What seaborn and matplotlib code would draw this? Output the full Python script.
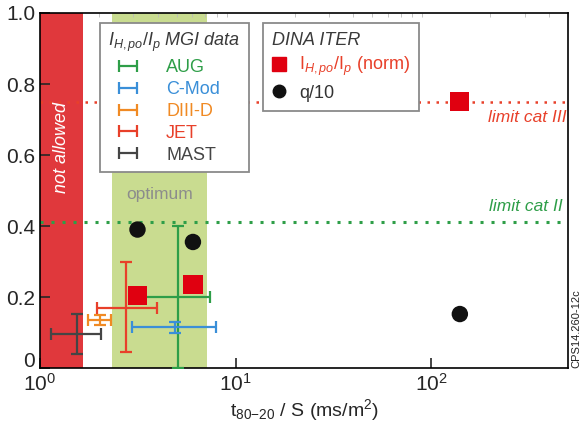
import numpy as np
import pandas as pd
import matplotlib
matplotlib.use("Agg")
import matplotlib.pyplot as plt
import matplotlib.transforms as mtransforms
from matplotlib.lines import Line2D
import seaborn as sns

# ---------------- data ----------------
machines = ["AUG", "C-Mod", "DIII-D", "JET", "MAST"]
machine_colors = ["#2e9e48", "#3a8fd8", "#f08a24", "#e8402a", "#454545"]
x_center = [5.1, 4.9, 2.02, 2.75, 1.55]
x_low = [3.4, 2.95, 1.76, 1.95, 1.14]
x_high = [7.4, 7.9, 2.3, 3.95, 2.06]
y_center = [0.20, 0.115, 0.135, 0.17, 0.097]
y_low = [0.0, 0.10, 0.12, 0.045, 0.04]
y_high = [0.40, 0.13, 0.15, 0.30, 0.152]

dina_x = [3.15, 6.05, 140.0]
dina_I = [0.205, 0.235, 0.75]
dina_q = [0.39, 0.355, 0.152]

limit_cat3 = 0.75
limit_cat2 = 0.41
not_allowed_range = [1.0, 1.66]
optimum_range = [2.33, 7.1]

# ---------------- style ----------------
sns.set_style("ticks")
plt.rcParams["font.family"] = ["Liberation Sans", "DejaVu Sans"]
plt.rcParams["mathtext.fontset"] = "custom"
plt.rcParams["mathtext.rm"] = "Liberation Sans"
plt.rcParams["mathtext.it"] = "Liberation Sans:italic"
plt.rcParams["mathtext.bf"] = "Liberation Sans:bold"

fig = plt.figure(figsize=(5.8, 4.23), dpi=100)
ax = fig.add_axes([40 / 580, 1 - 368 / 423, 528 / 580, 355 / 423])
ax.set_xscale("log")
ax.set_xlim(1, 500)
ax.set_ylim(0, 1.0)

# bands
ax.axvspan(*not_allowed_range, color="#e0383c", lw=0, zorder=0)
ax.axvspan(*optimum_range, color="#c9dc90", lw=0, zorder=0)

# limit lines
ax.axhline(limit_cat3, color="#e8402a", ls=(0, (1, 2.6)), lw=1.8, zorder=1)
ax.axhline(limit_cat2, color="#2e9e48", ls=(0, (1, 2.6)), lw=2.2, zorder=1)

# error bars
for m, c, xc, xl, xh, yc, yl, yh in zip(machines, machine_colors, x_center, x_low,
                                         x_high, y_center, y_low, y_high):
    ax.errorbar([xc], [yc], xerr=[[xc - xl], [xh - xc]], yerr=[[yc - yl], [yh - yc]],
                fmt="none", ecolor=c, elinewidth=1.6, capsize=4.5, capthick=1.6, zorder=3)

# DINA points
df = pd.DataFrame({"x": dina_x, "I": dina_I, "q": dina_q})
sns.scatterplot(data=df, x="x", y="I", marker="s", s=190, color="#e00010",
                edgecolor="none", ax=ax, zorder=4)
sns.scatterplot(data=df, x="x", y="q", marker="o", s=140, color="#111111",
                edgecolor="none", ax=ax, zorder=4)

# texts
ax.text(1.29, 0.62, "not allowed", rotation=90, color="white", fontstyle="italic",
        fontsize=13, ha="center", va="center", zorder=2)
ax.text(4.1, 0.49, "optimum", color="#8c8c8c", fontsize=12.5, ha="center", va="center",
        zorder=2)
ax.text(490, 0.707, "limit cat III", color="#e8402a", fontstyle="italic", fontsize=12.5,
        ha="right", va="center")
ax.text(470, 0.455, "limit cat II", color="#2e9e48", fontstyle="italic", fontsize=12.5,
        ha="right", va="center")
fig.text(0.993, 1 - 368 / 423, "CPS14.260-12c", rotation=90, fontsize=8, ha="center",
         va="bottom", color="#222222")

# axes
ax.set_yticks([0, 0.2, 0.4, 0.6, 0.8, 1.0])
ax.set_yticklabels(["0", "0.2", "0.4", "0.6", "0.8", "1.0"])
ax.tick_params(axis="both", which="major", direction="in", length=7, width=1.2,
               labelsize=15, top=False, right=False)
ax.tick_params(axis="x", which="minor", direction="in", length=3, color="#bbbbbb",
               top=True, bottom=False)
ax.tick_params(axis="y", which="major", right=False)
for s in ax.spines.values():
    s.set_linewidth(1.2)
    s.set_color("black")
ax.set_xlabel(r"t$_{80\mathrm{-}20}$ / S (ms/m$^2$)", fontsize=14, labelpad=2)
ax.set_ylabel("")

# nudge the "0" y tick label up a little, as in the reference
zero_lbl = ax.yaxis.get_major_ticks()[0].label1
zero_lbl.set_transform(zero_lbl.get_transform() +
                       mtransforms.ScaledTranslation(0, 6 / 72, fig.dpi_scale_trans))

# legend 1: MGI data
handles1 = []
for c in machine_colors:
    h = ax.errorbar([np.nan], [np.nan], xerr=[[1]], fmt="none", ecolor=c,
                    elinewidth=1.6, capsize=4.5, capthick=1.6)
    handles1.append(h)
leg1 = ax.legend(handles1, machines, loc="upper left",
                 bbox_to_anchor=(0.114, 0.972), borderaxespad=0,
                 title=r"$I_{H,po}/I_p$ MGI data", fontsize=13, title_fontsize=13,
                 fancybox=False, edgecolor="#8a8a8a", framealpha=1,
                 handlelength=2.2, handletextpad=1.0, labelspacing=0.27,
                 borderpad=0.45, alignment="left")
leg1.get_title().set_fontstyle("italic")
leg1.get_title().set_color("#3a3a3a")
leg1.get_frame().set_linewidth(1.3)
for t, c in zip(leg1.get_texts(), machine_colors):
    t.set_color(c)
ax.add_artist(leg1)

# legend 2: DINA ITER
handles2 = [Line2D([], [], marker="s", ls="none", color="#e00010", markersize=10),
            Line2D([], [], marker="o", ls="none", color="#111111", markersize=9)]
labels2 = [r"I$_{H,po}$/I$_p$ (norm)", "q/10"]
leg2 = ax.legend(handles2, labels2, loc="upper left", bbox_to_anchor=(0.422, 0.972),
                 borderaxespad=0, title="DINA ITER", fontsize=13, title_fontsize=13,
                 fancybox=False, edgecolor="#8a8a8a", framealpha=1,
                 handlelength=0.8, handletextpad=0.7, labelspacing=0.35,
                 borderpad=0.5, alignment="left")
leg2.get_title().set_fontstyle("italic")
leg2.get_title().set_color("#3a3a3a")
leg2.get_frame().set_linewidth(1.3)
leg2.get_texts()[0].set_color("#e8402a")
leg2.get_texts()[1].set_color("#333333")

fig.savefig("out.png", dpi=100)
